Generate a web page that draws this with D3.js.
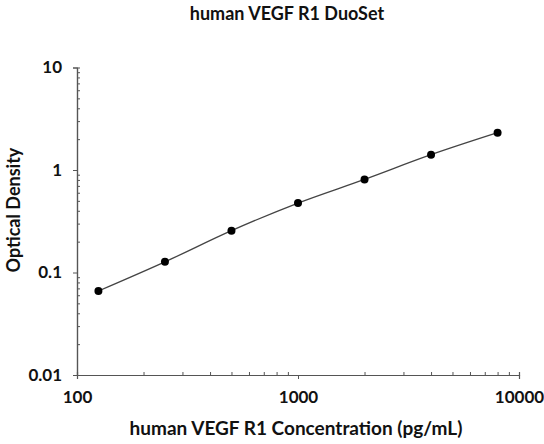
<!DOCTYPE html>
<html><head><meta charset="utf-8">
<script src="https://cdn.jsdelivr.net/npm/d3@7"></script>
<style>body{margin:0;background:#fff}svg{display:block}text{font-family:Lato,"Open Sans",sans-serif;font-weight:bold;fill:#111}</style>
</head><body><svg id="c" width="544" height="444"></svg>
<script>
const concentrations = [125, 250, 500, 1000, 2000, 4000, 8000];
const odValues = [0.066, 0.127, 0.256, 0.476, 0.81, 1.41, 2.31];
const xTickLabels = [100, 1000, 10000];
const yTickLabels = [0.01, 0.1, 1, 10];
const title = "human VEGF R1 DuoSet";
const xTitle = "human VEGF R1 Concentration (pg/mL)";
const yTitle = "Optical Density";

const svg = d3.select("#c");
const x = d3.scaleLog().domain([100, 10000]).range([77, 519]);
const y = d3.scaleLog().domain([0.01, 10]).range([375, 67.5]);

function minors(dom){const out=[];for(let d=dom[0];d<dom[1];d*=10){for(let k=2;k<=9;k++)out.push(d*k);}return out;}

const gx = svg.append("g").attr("transform","translate(0,375)");
gx.call(d3.axisBottom(x).tickValues(minors(x.domain())).tickSize(-3).tickFormat(""));
gx.append("g").call(d3.axisBottom(x).tickValues(xTickLabels).tickSize(4).tickPadding(12).tickFormat(d3.format("d")));
const gy = svg.append("g").attr("transform","translate(77,0)");
gy.call(d3.axisLeft(y).tickValues(minors(y.domain())).tickSize(-3).tickFormat(""));
gy.append("g").call(d3.axisLeft(y).tickValues(yTickLabels).tickSize(4).tickPadding(11).tickFormat(d=>String(d)));
svg.selectAll(".domain").attr("stroke","#555").attr("stroke-width",1.2);
svg.selectAll(".tick line").attr("stroke","#555");
svg.selectAll(".tick text").style("font-size","17px").attr("fill","#111");

const pts = concentrations.map((c,i)=>[c,odValues[i]]);
const line = d3.line().x(d=>x(d[0])).y(d=>y(d[1])).curve(d3.curveMonotoneX);
svg.append("path").attr("d",line(pts)).attr("fill","none").attr("stroke","#444").attr("stroke-width",1.3);
svg.selectAll("circle").data(pts).join("circle").attr("cx",d=>x(d[0])).attr("cy",d=>y(d[1])).attr("r",4).attr("fill","#000");

svg.append("text").attr("x",287).attr("y",20).attr("text-anchor","middle").style("font-size","18px").text(title);
svg.append("text").attr("x",296).attr("y",435).attr("text-anchor","middle").style("font-size","19px").text(xTitle);
svg.append("text").attr("transform","translate(20,210) rotate(-90)").attr("text-anchor","middle").style("font-size","18px").text(yTitle);
</script></body></html>
